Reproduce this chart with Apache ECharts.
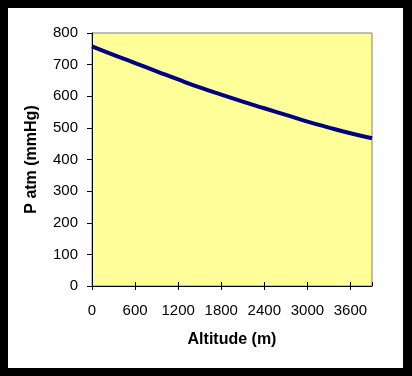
<!DOCTYPE html>
<html>
<head>
<meta charset="utf-8">
<script src="https://cdn.jsdelivr.net/npm/echarts@6/dist/echarts.min.js"></script>
<style>
  html, body { margin: 0; padding: 0; background: #000; }
  #chart { width: 412px; height: 376px; }
</style>
</head>
<body>
<div id="chart"></div>
<script>
// altitude (m) and atmospheric pressure (mmHg)
var altitude = [0, 300, 600, 900, 1200, 1500, 1800, 2100, 2400, 2700, 3000, 3300, 3600, 3900];
var pressure = [758, 731, 705, 679, 653, 628, 605, 583, 562, 541, 520, 501, 483, 467];

var points = altitude.map(function (a, i) { return [a, pressure[i]]; });

var chart = echarts.init(document.getElementById('chart'));
var font = 'Liberation Sans, Arial, sans-serif';
var plain = function (v) { return String(v); };

var option = {
  backgroundColor: '#000',
  animation: false,
  graphic: [{
    type: 'rect',
    shape: { x: 8, y: 8, width: 395, height: 360 },
    style: { fill: '#fff' },
    z: -10
  }],
  grid: {
    left: 92, top: 33, right: 40, bottom: 90,
    show: true,
    backgroundColor: '#ffff99',
    borderColor: '#808080',
    borderWidth: 1
  },
  xAxis: [{
    type: 'value',
    min: 0, max: 3900, interval: 600,
    name: 'Altitude (m)',
    nameLocation: 'middle',
    nameGap: 46,
    nameTextStyle: { fontFamily: font, fontSize: 16, fontWeight: 'bold', color: '#000' },
    axisLine: { lineStyle: { color: '#000', width: 1 } },
    axisTick: { length: 4, lineStyle: { color: '#000' } },
    axisLabel: { fontFamily: font, fontSize: 15, color: '#000', margin: 17, showMaxLabel: false, formatter: plain },
    splitLine: { show: false }
  }, {
    // same scale, only to draw the upper half of the crossing ticks
    type: 'value',
    position: 'bottom',
    min: 0, max: 3900, interval: 600,
    axisLine: { show: false },
    axisTick: { inside: true, length: 4, lineStyle: { color: '#000' } },
    axisLabel: { show: false },
    splitLine: { show: false }
  }],
  yAxis: {
    type: 'value',
    min: 0, max: 800, interval: 100,
    name: 'P atm (mmHg)',
    nameLocation: 'middle',
    nameRotate: 90,
    nameGap: 52,
    nameTextStyle: { fontFamily: font, fontSize: 16, fontWeight: 'bold', color: '#000' },
    axisLine: { lineStyle: { color: '#000', width: 1 } },
    axisTick: { length: 5, lineStyle: { color: '#000' } },
    axisLabel: { fontFamily: font, fontSize: 15, color: '#000', margin: 14, formatter: plain },
    splitLine: { show: false }
  },
  series: [{
    type: 'line',
    xAxisIndex: 0,
    data: points,
    smooth: true,
    symbol: 'none',
    lineStyle: { color: '#000080', width: 4 }
  }]
};

chart.setOption(option);
</script>
</body>
</html>
